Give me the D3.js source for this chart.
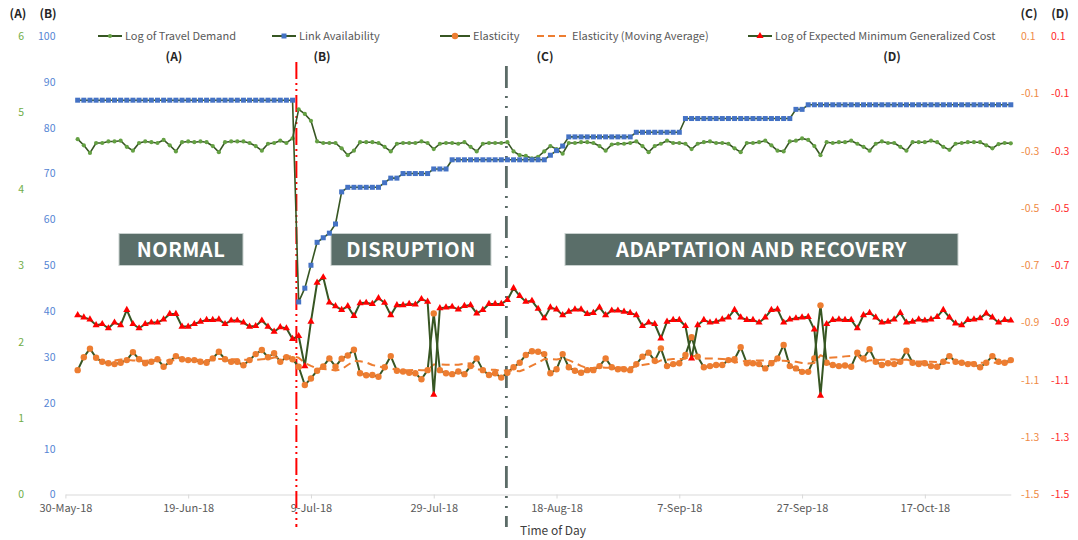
<!DOCTYPE html>
<html>
<head>
<meta charset="utf-8">
<script src="https://cdn.jsdelivr.net/npm/d3@7"></script>
<style>
  body { margin: 0; background: #fff; }
  svg { display: block; font-family: "Noto Sans CJK JP", "Noto Sans", sans-serif; }
</style>
</head>
<body>
<div id="chart"></div>
<script>
// one value per day, starting 1 Jun 2018
const firstDay = new Date(2018, 5, 1);

const travelDemand = [
  4.65, 4.57, 4.47, 4.60, 4.60, 4.62, 4.62, 4.63, 4.55, 4.50,
  4.60, 4.62, 4.61, 4.60, 4.64, 4.57, 4.49, 4.61, 4.62, 4.61,
  4.62, 4.61, 4.56, 4.48, 4.61, 4.62, 4.62, 4.62, 4.60, 4.56,
  4.50, 4.59, 4.60, 4.63, 4.60, 4.66, 5.04, 4.98, 4.89, 4.62,
  4.60, 4.60, 4.60, 4.53, 4.44, 4.50, 4.61, 4.61, 4.61, 4.60,
  4.55, 4.49, 4.59, 4.60, 4.60, 4.60, 4.62, 4.60, 4.52, 4.59,
  4.60, 4.60, 4.59, 4.61, 4.55, 4.49, 4.59, 4.60, 4.60, 4.60,
  4.61, 4.49, 4.44, 4.43, 4.40, 4.42, 4.49, 4.56, 4.52, 4.46,
  4.60, 4.60, 4.61, 4.61, 4.60, 4.56, 4.50, 4.58, 4.59, 4.59,
  4.60, 4.62, 4.56, 4.48, 4.56, 4.59, 4.63, 4.60, 4.60, 4.59,
  4.52, 4.59, 4.61, 4.62, 4.60, 4.60, 4.59, 4.53, 4.48, 4.60,
  4.60, 4.61, 4.63, 4.57, 4.50, 4.49, 4.62, 4.63, 4.66, 4.64,
  4.56, 4.44, 4.61, 4.60, 4.61, 4.61, 4.63, 4.59, 4.55, 4.50,
  4.59, 4.62, 4.60, 4.60, 4.55, 4.50, 4.61, 4.61, 4.61, 4.63,
  4.61, 4.55, 4.51, 4.59, 4.60, 4.61, 4.61, 4.61, 4.57, 4.53,
  4.585, 4.60, 4.595
];

const linkAvailability = [
  86, 86, 86, 86, 86, 86, 86, 86, 86, 86,
  86, 86, 86, 86, 86, 86, 86, 86, 86, 86,
  86, 86, 86, 86, 86, 86, 86, 86, 86, 86,
  86, 86, 86, 86, 86, 86, 42, 45, 50, 55,
  56, 57, 59, 66, 67, 67, 67, 67, 67, 67,
  68, 69, 69, 70, 70, 70, 70, 70, 71, 71,
  71, 73, 73, 73, 73, 73, 73, 73, 73, 73,
  73, 73, 73, 73, 73, 73, 73, 74, 75, 76,
  78, 78, 78, 78, 78, 78, 78, 78, 78, 78,
  78, 79, 79, 79, 79, 79, 79, 79, 79, 82,
  82, 82, 82, 82, 82, 82, 82, 82, 82, 82,
  82, 82, 82, 82, 82, 82, 82, 84, 84, 85,
  85, 85, 85, 85, 85, 85, 85, 85, 85, 85,
  85, 85, 85, 85, 85, 85, 85, 85, 85, 85,
  85, 85, 85, 85, 85, 85, 85, 85, 85, 85,
  85, 85, 85
];

const elasticity = [
  -1.066, -1.021, -0.991, -1.023, -1.037, -1.042, -1.045, -1.040, -1.031, -1.003,
  -1.028, -1.042, -1.037, -1.028, -1.054, -1.037, -1.017, -1.028, -1.031, -1.031,
  -1.037, -1.040, -1.025, -1.002, -1.028, -1.037, -1.037, -1.049, -1.031, -1.010,
  -0.996, -1.021, -1.007, -1.037, -1.021, -1.028, -1.054, -1.118, -1.095, -1.068,
  -1.053, -1.025, -1.054, -1.026, -1.015, -0.995, -1.077, -1.084, -1.083, -1.089,
  -1.056, -1.017, -1.068, -1.071, -1.075, -1.077, -1.098, -1.066, -0.868, -1.066,
  -1.077, -1.080, -1.071, -1.080, -1.052, -1.025, -1.066, -1.083, -1.077, -1.092,
  -1.075, -1.056, -1.040, -1.013, -1.000, -1.002, -1.010, -1.077, -1.063, -1.010,
  -1.056, -1.068, -1.075, -1.066, -1.066, -1.052, -1.025, -1.056, -1.063, -1.063,
  -1.066, -1.045, -1.019, -1.005, -1.033, -0.990, -1.052, -1.045, -1.042, -1.013,
  -0.951, -1.019, -1.056, -1.052, -1.048, -1.048, -1.031, -1.028, -0.986, -1.042,
  -1.042, -1.045, -1.060, -1.042, -1.025, -0.978, -1.052, -1.060, -1.072, -1.072,
  -1.025, -0.840, -1.040, -1.048, -1.052, -1.050, -1.054, -1.005, -1.025, -0.993,
  -1.037, -1.048, -1.042, -1.045, -1.037, -0.998, -1.040, -1.045, -1.042, -1.052,
  -1.054, -1.037, -1.017, -1.037, -1.040, -1.045, -1.045, -1.056, -1.040, -1.017,
  -1.037, -1.040, -1.031
];

const elasticityMovingAvg = [
  null, null, null, null, null, null, -1.032, -1.029, -1.030, -1.032,
  -1.033, -1.033, -1.032, -1.030, -1.032, -1.033, -1.031, -1.031, -1.031, -1.031,
  -1.030, -1.031, -1.030, -1.027, -1.027, -1.028, -1.028, -1.030, -1.031, -1.030,
  -1.028, -1.027, -1.022, -1.022, -1.018, -1.017, -1.023, -1.041, -1.051, -1.060,
  -1.062, -1.063, -1.067, -1.063, -1.048, -1.034, -1.035, -1.039, -1.048, -1.053,
  -1.057, -1.057, -1.068, -1.067, -1.066, -1.065, -1.066, -1.067, -1.046, -1.046,
  -1.047, -1.047, -1.047, -1.044, -1.042, -1.064, -1.064, -1.065, -1.065, -1.068,
  -1.067, -1.068, -1.070, -1.062, -1.050, -1.040, -1.028, -1.028, -1.029, -1.025,
  -1.031, -1.041, -1.051, -1.059, -1.058, -1.056, -1.058, -1.058, -1.058, -1.056,
  -1.056, -1.053, -1.048, -1.045, -1.042, -1.032, -1.030, -1.027, -1.027, -1.026,
  -1.018, -1.016, -1.025, -1.025, -1.026, -1.027, -1.029, -1.040, -1.036, -1.034,
  -1.032, -1.032, -1.033, -1.035, -1.035, -1.033, -1.035, -1.037, -1.041, -1.043,
  -1.041, -1.014, -1.023, -1.022, -1.021, -1.018, -1.016, -1.013, -1.039, -1.032,
  -1.031, -1.030, -1.029, -1.028, -1.032, -1.029, -1.035, -1.036, -1.036, -1.037,
  -1.038, -1.038, -1.041, -1.041, -1.040, -1.040, -1.039, -1.040, -1.040, -1.040,
  -1.040, -1.040, -1.038
];

const minGeneralizedCost = [
  -0.874, -0.882, -0.889, -0.909, -0.905, -0.920, -0.900, -0.909, -0.856, -0.905,
  -0.920, -0.905, -0.900, -0.900, -0.889, -0.870, -0.870, -0.914, -0.914, -0.905,
  -0.897, -0.891, -0.891, -0.889, -0.905, -0.893, -0.893, -0.900, -0.914, -0.912,
  -0.893, -0.914, -0.932, -0.916, -0.920, -0.957, -0.947, -1.052, -0.897, -0.761,
  -0.742, -0.830, -0.843, -0.856, -0.843, -0.877, -0.832, -0.831, -0.835, -0.815,
  -0.831, -0.874, -0.839, -0.839, -0.835, -0.837, -0.818, -0.827, -1.152, -0.850,
  -0.847, -0.845, -0.854, -0.842, -0.839, -0.868, -0.856, -0.835, -0.835, -0.835,
  -0.821, -0.780, -0.807, -0.827, -0.824, -0.852, -0.885, -0.847, -0.854, -0.874,
  -0.862, -0.854, -0.854, -0.870, -0.866, -0.847, -0.874, -0.858, -0.858, -0.862,
  -0.866, -0.874, -0.912, -0.900, -0.905, -0.955, -0.897, -0.891, -0.891, -0.912,
  -1.025, -0.909, -0.891, -0.900, -0.897, -0.889, -0.882, -0.856, -0.882, -0.891,
  -0.891, -0.900, -0.882, -0.856, -0.854, -0.900, -0.889, -0.885, -0.882, -0.880,
  -0.924, -1.155, -0.905, -0.891, -0.889, -0.891, -0.891, -0.920, -0.874, -0.866,
  -0.882, -0.900, -0.897, -0.889, -0.866, -0.900, -0.897, -0.889, -0.893, -0.889,
  -0.880, -0.856, -0.882, -0.903, -0.909, -0.891, -0.889, -0.885, -0.868, -0.882,
  -0.900, -0.891, -0.893
];

const xTickLabels = ["30-May-18", "19-Jun-18", "9-Jul-18", "29-Jul-18", "18-Aug-18", "7-Sep-18", "27-Sep-18", "17-Oct-18"];
const ticksA = [0, 1, 2, 3, 4, 5, 6];
const ticksB = [0, 10, 20, 30, 40, 50, 60, 70, 80, 90, 100];
const ticksCD = [0.1, -0.1, -0.3, -0.5, -0.7, -0.9, -1.1, -1.3, -1.5];

const phaseLines = [
  { date: new Date(2018, 6, 6, 15), color: "#ff0000", width: 2, dash: "17,4,2,4,2,4", top: 62 },
  { date: new Date(2018, 7, 9, 20), color: "#5b6b67", width: 2.8, dash: "22,8,2,8,2,8", top: 66 }
];
const phaseBoxes = [
  { label: "NORMAL", x0: 119, x1: 243 },
  { label: "DISRUPTION", x0: 331, x1: 491 },
  { label: "ADAPTATION AND RECOVERY", x0: 565, x1: 958 }
];
const phaseTags = [{ t: "(A)", x: 174 }, { t: "(B)", x: 322 }, { t: "(C)", x: 545 }, { t: "(D)", x: 892 }];

const W = 1078, H = 540;
const plot = { left: 65.4, right: 1010.8, top: 36, bottom: 494.5 };
const lineGreen = "#375623";

const dates = travelDemand.map((_, i) => d3.timeDay.offset(firstDay, i));

const svg = d3.select("#chart").append("svg").attr("width", W).attr("height", H);

const x = d3.scaleTime()
  .domain([new Date(2018, 4, 30), new Date(2018, 9, 31)])
  .range([plot.left, plot.right]);
const yA = d3.scaleLinear().domain([0, 6]).range([plot.bottom, plot.top]);
const yB = d3.scaleLinear().domain([0, 100]).range([plot.bottom, plot.top]);
const yC = d3.scaleLinear().domain([-1.5, 0.1]).range([plot.bottom, plot.top]);
const yD = yC.copy();

// x axis
const parseTick = d3.timeParse("%d-%b-%y");
const xAxis = svg.append("g")
  .attr("transform", `translate(0,${plot.bottom})`)
  .call(d3.axisBottom(x).tickValues(xTickLabels.map(parseTick))
    .tickFormat(d3.timeFormat("%-d-%b-%y")).tickSize(4).tickSizeOuter(0).tickPadding(6));
xAxis.select(".domain").attr("stroke", "#d9d9d9").attr("stroke-width", 1.2);
xAxis.selectAll(".tick line").attr("stroke", "#d9d9d9");
xAxis.selectAll(".tick text").attr("fill", "#595959").style("font-size", "11px")
  .style("font-family", "'Noto Sans CJK JP', sans-serif");

svg.append("text").attr("x", 553).attr("y", 535).attr("text-anchor", "middle")
  .attr("fill", "#404040").style("font-size", "12px").text("Time of Day");

// value axes
const fmt1 = d => d.toFixed(1);
function valueAxis(axis, xPos, color) {
  const g = svg.append("g").attr("transform", `translate(${xPos},0)`).call(axis);
  g.select(".domain").remove();
  g.selectAll(".tick line").remove();
  g.selectAll(".tick text").attr("fill", color).style("font-size", "10.5px")
    .style("font-family", "'Noto Sans CJK JP', sans-serif");
}
valueAxis(d3.axisLeft(yA).tickValues(ticksA).tickFormat(d3.format("d")).tickSize(0).tickPadding(0), 24, "#70ad47");
valueAxis(d3.axisLeft(yB).tickValues(ticksB).tickFormat(d3.format("d")).tickSize(0).tickPadding(0), 55.5, "#5585d4");
valueAxis(d3.axisRight(yC).tickValues(ticksCD).tickFormat(fmt1).tickSize(0).tickPadding(0), 1021, "#ef8a45");
valueAxis(d3.axisRight(yD).tickValues(ticksCD).tickFormat(fmt1).tickSize(0).tickPadding(0), 1051, "#ff2a2a");

const heads = [{ t: "(A)", x: 18 }, { t: "(B)", x: 48 }, { t: "(C)", x: 1029 }, { t: "(D)", x: 1060 }];
svg.selectAll(".head").data(heads).enter().append("text")
  .attr("x", d => d.x).attr("y", 18).attr("text-anchor", "middle")
  .attr("font-weight", "bold").attr("fill", "#262626").style("font-size", "12px")
  .text(d => d.t);

svg.selectAll(".tag").data(phaseTags).enter().append("text")
  .attr("x", d => d.x).attr("y", 61).attr("text-anchor", "middle")
  .attr("font-weight", "bold").attr("fill", "#262626").style("font-size", "12px")
  .text(d => d.t);

// phase separators
svg.selectAll(".phase-line").data(phaseLines).enter().append("line")
  .attr("x1", d => x(d.date)).attr("x2", d => x(d.date))
  .attr("y1", d => d.top).attr("y2", 527)
  .attr("stroke", d => d.color).attr("stroke-width", d => d.width)
  .attr("stroke-dasharray", d => d.dash);

// phase boxes
const boxG = svg.selectAll(".phase-box").data(phaseBoxes).enter().append("g");
boxG.append("rect")
  .attr("x", d => d.x0).attr("y", 233.5).attr("width", d => d.x1 - d.x0).attr("height", 32)
  .attr("fill", "#5a6e69").attr("stroke", "#c9d1cf").attr("stroke-width", 1);
boxG.append("text")
  .attr("x", d => (d.x0 + d.x1) / 2).attr("y", 257).attr("text-anchor", "middle")
  .attr("fill", "#fff").attr("font-weight", "bold").style("font-size", "20px")
  .style("letter-spacing", "0.5px")
  .text(d => d.label);

// series
function drawLine(values, y, stroke, width, dash) {
  const line = d3.line()
    .defined(d => d != null)
    .x((d, i) => x(dates[i]))
    .y(d => y(d));
  svg.append("path").datum(values)
    .attr("fill", "none").attr("stroke", stroke).attr("stroke-width", width)
    .attr("stroke-linejoin", "round")
    .attr("stroke-dasharray", dash || null)
    .attr("d", line);
}

// Log of Travel Demand
drawLine(travelDemand, yA, lineGreen, 1.6);
svg.append("g").selectAll("circle").data(travelDemand).enter().append("circle")
  .attr("cx", (d, i) => x(dates[i])).attr("cy", d => yA(d))
  .attr("r", 2.1).attr("fill", "#64a043");

// Link Availability
drawLine(linkAvailability, yB, lineGreen, 1.6);
svg.append("g").selectAll("rect").data(linkAvailability).enter().append("rect")
  .attr("x", (d, i) => x(dates[i]) - 2.5).attr("y", d => yB(d) - 2.5)
  .attr("width", 5).attr("height", 5).attr("fill", "#4472c4");

// Elasticity
drawLine(elasticity, yC, lineGreen, 2);
svg.append("g").selectAll("circle").data(elasticity).enter().append("circle")
  .attr("cx", (d, i) => x(dates[i])).attr("cy", d => yC(d))
  .attr("r", 3.2).attr("fill", "#ed7d31");

// Elasticity (Moving Average)
drawLine(elasticityMovingAvg, yC, "#ed7d31", 2, "8,5");

// Log of Expected Minimum Generalized Cost
drawLine(minGeneralizedCost, yD, lineGreen, 2);
const tri = d3.symbol().type(d3.symbolTriangle).size(22);
svg.append("g").selectAll("path").data(minGeneralizedCost).enter().append("path")
  .attr("transform", (d, i) => `translate(${x(dates[i])},${yD(d)})`)
  .attr("d", tri).attr("fill", "#ff0000");

// legend
const legendItems = [
  { label: "Log of Travel Demand", x: 98, w: 24, kind: "dot" },
  { label: "Link Availability", x: 272, w: 24, kind: "square" },
  { label: "Elasticity", x: 440, w: 30, kind: "circle" },
  { label: "Elasticity (Moving Average)", x: 537, w: 32, kind: "dash" },
  { label: "Log of Expected Minimum Generalized Cost", x: 748, w: 24, kind: "triangle" }
];
const ly = 36;
const lg = svg.selectAll(".legend").data(legendItems).enter().append("g");
lg.append("line")
  .attr("x1", d => d.x).attr("x2", d => d.x + d.w).attr("y1", ly).attr("y2", ly)
  .attr("stroke", d => d.kind === "dash" ? "#ed7d31" : lineGreen)
  .attr("stroke-width", 2)
  .attr("stroke-dasharray", d => d.kind === "dash" ? "7,4" : null);
lg.each(function (d) {
  const g = d3.select(this);
  const cx = d.x + d.w / 2;
  if (d.kind === "dot") g.append("circle").attr("cx", cx).attr("cy", ly).attr("r", 2.1).attr("fill", "#64a043");
  if (d.kind === "square") g.append("rect").attr("x", cx - 2.5).attr("y", ly - 2.5).attr("width", 5).attr("height", 5).attr("fill", "#4472c4");
  if (d.kind === "circle") g.append("circle").attr("cx", cx).attr("cy", ly).attr("r", 3.2).attr("fill", "#ed7d31");
  if (d.kind === "triangle") g.append("path").attr("transform", `translate(${cx},${ly})`).attr("d", tri).attr("fill", "#ff0000");
});
lg.append("text")
  .attr("x", d => d.x + d.w + 3).attr("y", ly).attr("dy", "0.35em")
  .attr("fill", "#595959").style("font-size", "11px")
  .text(d => d.label);
</script>
</body>
</html>
